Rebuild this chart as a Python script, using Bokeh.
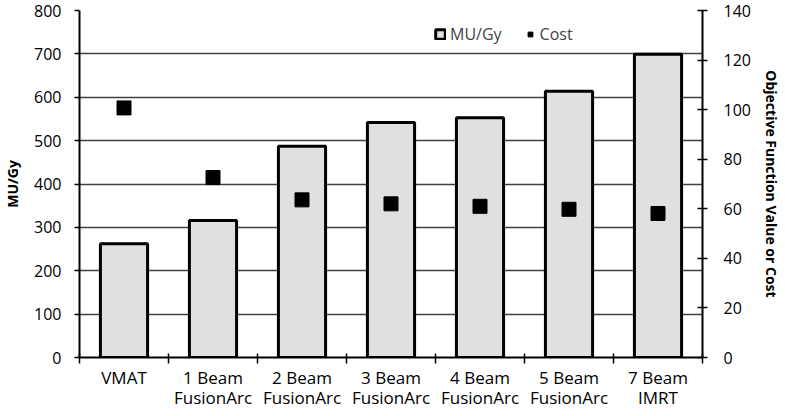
from bokeh.plotting import figure
from bokeh.models import (Range1d, LinearAxis, FixedTicker, Legend, LegendItem,
                          SingleIntervalTicker, ColumnDataSource)
from bokeh.embed import file_html
from bokeh.resources import INLINE

categories = ["VMAT", "1 Beam\nFusionArc", "2 Beam\nFusionArc", "3 Beam\nFusionArc",
              "4 Beam\nFusionArc", "5 Beam\nFusionArc", "7 Beam\nIMRT"]
mu_per_gy = [262, 316, 487, 542, 553, 614, 699]
cost = [100.7, 72.6, 63.6, 62.0, 61.0, 59.8, 58.1]

FONT = "Open Sans"

n = len(categories)
centers = [i + 0.5 for i in range(n)]
src = ColumnDataSource(dict(x=centers, cat=categories, mu=mu_per_gy, cost=cost))

W, H = 783, 414
p = figure(x_range=Range1d(0, n), y_range=Range1d(0, 800),
           width=W, height=H, output_backend="svg", toolbar_location=None,
           x_axis_location=None, y_axis_location=None,
           min_border_left=77, min_border_right=W - 708, min_border_top=10,
           min_border_bottom=H - 357)
p.outline_line_color = None
p.background_fill_color = "white"
p.extra_y_ranges = {"cost": Range1d(0, 140)}

# left axis
yl = LinearAxis(ticker=SingleIntervalTicker(interval=100), axis_label="MU/Gy")
p.add_layout(yl, "left")
# right axis
yr = LinearAxis(y_range_name="cost", ticker=SingleIntervalTicker(interval=20),
                axis_label="Objective Function Value or Cost")
p.add_layout(yr, "right")
# bottom axis: labels at category centres, minor ticks at boundaries
xc = LinearAxis(ticker=FixedTicker(ticks=centers, minor_ticks=list(range(n + 1))),
                major_label_overrides={c: lab for c, lab in zip(centers, categories)})
p.add_layout(xc, "below")

for ax in (yl, yr):
    ax.axis_line_width = 2
    ax.axis_line_color = "black"
    ax.major_tick_line_color = "black"
    ax.major_tick_line_width = 1.5
    ax.minor_tick_line_color = None
    ax.major_label_text_font = FONT
    ax.major_label_text_font_size = "16px"
    ax.major_label_text_color = "black"
    ax.axis_label_text_font = FONT
    ax.axis_label_text_font_size = "14px"
    ax.axis_label_text_font_style = "bold"
    ax.axis_label_text_color = "black"
yl.major_tick_out = 5
yl.major_tick_in = 0
yl.major_label_standoff = 13
yl.axis_label_standoff = 9
yr.major_tick_out = 5
yr.major_tick_in = 5
yr.major_label_standoff = 16
yr.axis_label_standoff = 8

xc.axis_line_width = 2
xc.axis_line_color = "black"
xc.major_tick_line_color = None
xc.major_tick_in = 0
xc.major_tick_out = 0
xc.minor_tick_line_color = "black"
xc.minor_tick_line_width = 1.5
xc.minor_tick_in = 4
xc.minor_tick_out = 6
xc.major_label_text_font = FONT
xc.major_label_text_font_size = "17px"
xc.major_label_text_color = "black"
xc.major_label_text_line_height = 0.9
xc.major_label_standoff = 2

p.xgrid.visible = False
p.ygrid.ticker = SingleIntervalTicker(interval=100)
p.ygrid.grid_line_color = "#404040"
p.ygrid.grid_line_width = 1.5

bars = p.vbar(x="x", top="mu", source=src, width=0.53, fill_color="#e0e0e0",
              line_color="black", line_width=3)
pts = p.scatter(x="x", y="cost", source=src, y_range_name="cost", marker="square", size=14,
                fill_color="black", line_color="black")

legend = Legend(items=[LegendItem(label="MU/Gy", renderers=[bars]),
                       LegendItem(label="Cost", renderers=[pts])],
                orientation="horizontal", location=(355, 312), padding=0, margin=0,
                border_line_color=None, background_fill_alpha=0,
                label_text_font=FONT, label_text_font_size="16px",
                glyph_width=12, glyph_height=12, label_standoff=4, spacing=22)
p.add_layout(legend)

open("out.html", "w").write(file_html(p, INLINE))
